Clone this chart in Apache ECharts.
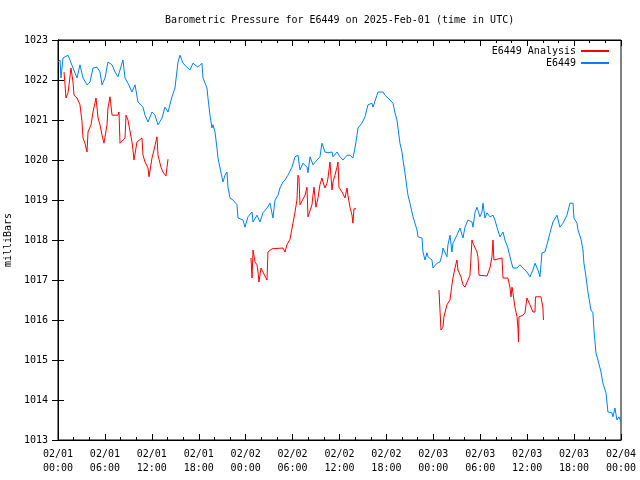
<!DOCTYPE html>
<html>
<head>
<meta charset="utf-8">
<script src="https://cdn.jsdelivr.net/npm/echarts@6/dist/echarts.min.js"></script>
<style>html,body{margin:0;padding:0;background:#fff}#c{width:640px;height:480px}</style>
</head>
<body>
<div id="c"></div>
<script>
// Hours since 2025-02-01 00:00 UTC
const blueHours = [0,0.26,0.38,0.64,1.28,1.53,1.92,2.43,2.81,3.2,3.71,4.09,4.48,4.99,5.37,5.63,6.01,6.39,6.91,7.29,7.67,8.31,8.57,8.95,9.46,9.85,10.23,10.87,11.13,11.51,12.02,12.4,12.79,13.3,13.68,14.07,14.58,14.96,15.35,15.6,15.98,16.5,16.88,17.26,17.9,18.41,18.54,19.05,19.18,19.44,19.69,19.82,20.08,20.33,20.46,20.72,21.1,21.36,21.61,21.74,22.0,22.38,22.89,23.02,23.66,23.91,24.3,24.81,24.94,25.45,25.83,26.21,26.73,27.11,27.49,27.75,28.13,28.39,28.77,29.03,29.41,29.92,30.31,30.69,30.95,31.33,31.84,31.97,32.23,32.61,33.12,33.5,33.76,34.14,34.53,35.04,35.17,35.68,36.06,36.45,36.96,37.34,37.72,37.98,38.24,38.36,38.87,39.26,39.64,40.15,40.28,40.79,40.92,41.56,41.82,42.07,42.46,42.84,43.09,43.35,43.48,43.73,43.99,44.12,44.37,44.63,44.76,45.01,45.4,45.91,46.04,46.29,46.55,46.68,46.93,47.19,47.31,47.83,47.95,48.47,48.85,49.1,49.23,49.74,49.87,50.13,50.38,50.51,51.02,51.41,51.79,52.05,52.43,52.94,53.07,53.32,53.58,53.96,54.22,54.35,54.6,54.86,55.24,55.63,55.88,56.14,56.52,56.91,57.16,57.54,57.8,58.18,58.7,59.08,59.46,59.97,60.36,60.74,61.0,61.38,61.64,61.89,62.28,62.53,62.92,63.3,63.81,63.94,64.19,64.58,65.09,65.47,65.86,65.98,66.37,66.5,66.88,67.14,67.26,67.52,67.77,68.16,68.41,68.54,68.8,69.05,69.44,69.69,70.08,70.33,70.84,70.97,71.23,71.48,71.74,72.0];
const blueValues = [1022.45,1022.5,1022.05,1022.55,1022.62,1022.5,1022.3,1022.05,1022.38,1022.05,1021.88,1021.95,1022.3,1022.32,1022.2,1021.88,1022.05,1022.45,1022.38,1022.2,1022.08,1022.5,1022.05,1021.92,1021.7,1021.88,1021.45,1021.32,1021.12,1020.95,1021.2,1021.12,1020.88,1021.05,1021.32,1021.2,1021.58,1021.8,1022.45,1022.62,1022.42,1022.32,1022.25,1022.42,1022.32,1022.42,1022.05,1021.8,1021.55,1021.12,1020.8,1020.88,1020.7,1020.3,1020.05,1019.8,1019.45,1019.62,1019.7,1019.32,1019.05,1019.0,1018.88,1018.55,1018.5,1018.32,1018.58,1018.7,1018.45,1018.62,1018.45,1018.68,1018.8,1018.92,1018.55,1019.0,1019.12,1019.3,1019.45,1019.5,1019.62,1019.82,1020.08,1020.12,1019.75,1019.92,1019.82,1019.68,1020.08,1019.88,1020.0,1020.08,1020.42,1020.2,1020.18,1020.2,1020.08,1020.2,1020.08,1020.0,1020.12,1020.12,1020.05,1020.3,1020.62,1020.8,1020.92,1021.08,1021.38,1021.42,1021.32,1021.62,1021.7,1021.7,1021.62,1021.58,1021.5,1021.42,1021.18,1021.0,1020.8,1020.42,1020.2,1020.0,1019.68,1019.3,1019.12,1018.92,1018.58,1018.25,1018.08,1018.12,1018.05,1017.7,1017.5,1017.68,1017.58,1017.5,1017.3,1017.42,1017.45,1017.62,1017.8,1017.58,1017.88,1018.12,1017.7,1017.92,1018.12,1018.3,1018.05,1018.32,1018.5,1018.45,1018.32,1018.68,1018.82,1018.58,1018.7,1018.92,1018.55,1018.68,1018.58,1018.62,1018.5,1018.32,1018.08,1018.2,1018.0,1017.8,1017.58,1017.3,1017.3,1017.38,1017.3,1017.2,1017.08,1017.25,1017.42,1017.25,1017.08,1017.68,1017.7,1017.88,1018.18,1018.45,1018.62,1018.58,1018.32,1018.42,1018.62,1018.92,1018.92,1018.55,1018.42,1018.25,1018.02,1017.75,1017.42,1017.08,1016.7,1016.25,1016.18,1015.75,1015.18,1015.0,1014.7,1014.42,1014.18,1013.7,1013.68,1013.58,1013.8,1013.5,1013.58,1013.45];

const redHours = [0.77,0.9,1.02,1.28,1.41,1.66,1.79,1.92,2.05,2.43,2.81,3.07,3.2,3.45,3.71,3.84,4.22,4.48,4.86,4.99,5.12,5.37,5.63,5.88,6.27,6.39,6.65,6.78,6.91,7.67,7.8,7.93,8.57,8.7,8.95,9.46,9.59,9.72,10.1,10.74,10.87,11.13,11.51,11.64,12.02,12.28,12.66,12.79,13.17,13.43,13.81,13.94,14.07,
  20,
  24.68,24.81,24.94,25.19,25.45,25.58,25.7,25.96,26.21,26.73,26.85,27.37,28.77,29.03,29.28,29.67,29.92,30.05,30.31,30.56,30.69,30.82,30.95,31.2,31.59,31.84,31.97,32.1,32.48,32.61,32.74,32.99,33.25,33.5,33.76,33.89,34.14,34.4,34.53,34.78,35.04,35.17,35.42,35.68,35.81,35.93,36.32,36.7,36.96,37.08,37.34,37.6,37.72,37.85,38.11,
  44,
  48.72,48.98,49.23,49.36,49.74,50.13,50.38,50.51,50.77,51.02,51.15,51.53,51.79,52.05,52.43,52.69,52.94,53.07,53.58,53.71,53.84,54.86,54.99,55.24,55.5,55.63,55.75,55.88,56.78,56.91,57.54,57.8,57.93,58.06,58.18,58.44,58.7,58.82,58.89,58.95,59.46,59.72,59.97,60.36,60.74,61.0,61.06,61.76,62.02,62.08];
const redValues = [1022.2,1021.88,1021.55,1021.68,1021.88,1022.3,1022.32,1021.95,1021.62,1021.55,1021.38,1020.95,1020.55,1020.42,1020.2,1020.7,1020.88,1021.2,1021.55,1021.55,1021.05,1020.88,1020.62,1020.42,1020.88,1021.3,1021.58,1021.58,1021.12,1021.12,1021.2,1020.42,1020.55,1021.12,1021.0,1020.45,1020.25,1020.0,1020.45,1020.55,1020.12,1019.95,1019.8,1019.58,1020.05,1020.25,1020.58,1020.12,1019.82,1019.7,1019.6,1019.82,1020.02,
  null,
  1017.55,1017.05,1017.75,1017.45,1017.38,1017.2,1016.95,1017.3,1017.2,1017.0,1017.7,1017.78,1017.8,1017.7,1017.88,1018.02,1018.05,1018.42,1018.7,1019.0,1019.62,1019.55,1018.88,1018.92,1019.12,1019.32,1018.58,1018.62,1018.88,1019.12,1019.32,1018.82,1019.05,1019.38,1019.55,1019.45,1019.3,1019.42,1019.55,1019.95,1019.25,1019.45,1019.62,1019.82,1019.95,1019.32,1019.2,1019.05,1019.3,1019.12,1018.82,1018.62,1018.42,1018.78,1018.78,
  null,
  1016.75,1015.75,1015.82,1016.08,1016.38,1016.5,1016.88,1017.05,1017.3,1017.5,1017.25,1017.08,1016.88,1016.82,1017.0,1017.12,1018.0,1017.92,1017.7,1017.58,1017.12,1017.1,1017.08,1017.3,1017.58,1018.0,1017.5,1017.55,1017.55,1017.05,1017.05,1016.82,1016.58,1016.82,1016.68,1016.32,1016.08,1015.8,1015.45,1016.08,1016.12,1016.18,1016.55,1016.38,1016.2,1016.2,1016.58,1016.58,1016.3,1016.0];

const seriesNames = ['E6449 Analysis', 'E6449'];
const titleText = 'Barometric Pressure for E6449 on 2025-Feb-01 (time in UTC)';
const yName = 'milliBars';

const FONT = 'DejaVu Sans Mono';
function pairs(h, v) { return h.map((x, i) => [x, v[i] === null ? '-' : v[i]]); }
function xLabel(v) {
  const d = 1 + Math.floor(v / 24);
  const hh = Math.round(v % 24);
  return '02/0' + d + '\n' + String(hh).padStart(2, '0') + ':00';
}

const chart = echarts.init(document.getElementById('c'), null, { renderer: 'canvas' });
const axisCommon = {
  axisLine: { show: true, lineStyle: { color: '#000', width: 1 } },
  splitLine: { show: false },
};
chart.setOption({
  animation: false,
  backgroundColor: '#fff',
  title: {
    text: titleText, left: 160, top: 10,
    textStyle: { fontFamily: FONT, fontSize: 10, fontWeight: 'normal', color: '#000' }
  },
  legend: {
    orient: 'vertical', right: 25, top: 41, align: 'right',
    itemWidth: 28, itemHeight: 10, itemGap: 2,
    itemStyle: { opacity: 0 },
    textStyle: { fontFamily: FONT, fontSize: 10, color: '#000' },
    data: seriesNames
  },
  grid: { left: 58, right: 19, top: 40, bottom: 40, show: true, borderColor: '#000', borderWidth: 1, containLabel: false, outerBoundsMode: 'none' },
  xAxis: [
    Object.assign({}, axisCommon, {
      type: 'value', min: 0, max: 72, interval: 6, position: 'bottom',
      axisTick: { show: true, inside: true, length: 6, lineStyle: { color: '#000' } },
      minorTick: { show: true, splitNumber: 3, length: 3, lineStyle: { color: '#000' } },
      axisLabel: { formatter: xLabel, fontFamily: FONT, fontSize: 10, color: '#000', margin: 7, lineHeight: 14 }
    }),
    Object.assign({}, axisCommon, {
      type: 'value', min: 0, max: 72, interval: 6, position: 'top',
      axisTick: { show: true, inside: true, length: 6, lineStyle: { color: '#000' } },
      minorTick: { show: true, splitNumber: 3, length: 3, lineStyle: { color: '#000' } },
      axisLabel: { show: false }
    })
  ],
  yAxis: [
    Object.assign({}, axisCommon, {
      type: 'value', min: 1013, max: 1023, interval: 1, position: 'left',
      name: yName, nameLocation: 'middle', nameGap: 39, nameRotate: 90,
      nameTextStyle: { fontFamily: FONT, fontSize: 10, color: '#000' },
      axisTick: { show: true, inside: true, length: 6, lineStyle: { color: '#000' } },
      axisLabel: { formatter: v => String(v), fontFamily: FONT, fontSize: 10, color: '#000', margin: 10 }
    }),
    Object.assign({}, axisCommon, {
      type: 'value', min: 1013, max: 1023, interval: 1, position: 'right',
      axisTick: { show: true, inside: true, length: 6, lineStyle: { color: '#000' } },
      axisLabel: { show: false }
    })
  ],
  series: [
    {
      name: seriesNames[0], type: 'line', xAxisIndex: 0, yAxisIndex: 0,
      data: pairs(redHours, redValues), connectNulls: false,
      symbol: 'none', showSymbol: false,
      lineStyle: { color: '#ff0000', width: 1 }, itemStyle: { color: '#ff0000' }
    },
    {
      name: seriesNames[1], type: 'line', xAxisIndex: 0, yAxisIndex: 0,
      data: pairs(blueHours, blueValues),
      symbol: 'none', showSymbol: false,
      lineStyle: { color: '#0080ff', width: 1 }, itemStyle: { color: '#0080ff' }
    }
  ]
});
</script>
</body>
</html>
